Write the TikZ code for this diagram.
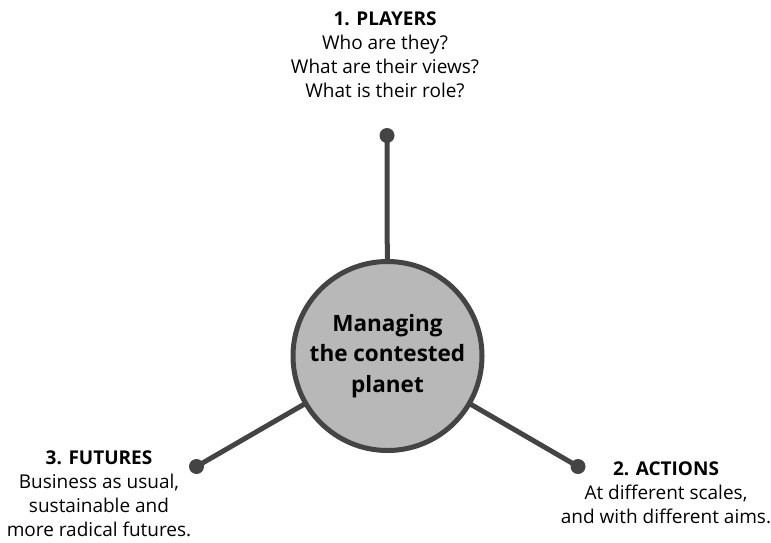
\documentclass[tikz,border=0pt]{standalone}
\usepackage{fontspec}
\setmainfont{Open Sans}
\begin{document}
\begin{tikzpicture}[x=1pt,y=-1pt,
  hub/.style={circle,draw=linegray,fill=hubgray,line width=5pt,minimum size=189pt,inner sep=0pt,align=center,font=\fontsize{22.5}{30.5}\selectfont\bfseries},
  spoke/.style={draw=linegray,line width=5pt},
  dot/.style={circle,fill=linegray,minimum size=15pt,inner sep=0pt},
  lbl/.style={align=center,font=\fontsize{19}{24}\selectfont,inner sep=2pt}]
\definecolor{linegray}{HTML}{444444}
\definecolor{hubgray}{HTML}{B8B8B8}
\useasboundingbox (0,0) rectangle (771,542);
\coordinate (c) at (387.5,356);
\node[dot] (d1) at (387,135.5) {};
\node[dot] (d2) at (578,466.5) {};
\node[dot] (d3) at (196.5,466.5) {};
\draw[spoke] (c) -- (d1.center);
\draw[spoke] (c) -- (d2.center);
\draw[spoke] (c) -- (d3.center);
\node[hub] (hub) at (c) {Managing\\the contested\\planet};
\node[lbl,anchor=north] (t1) at (385,9.5) {\textbf{1. PLAYERS}\\Who are they?\\What are their views?\\What is their role?};
\node[lbl,anchor=north] (t2) at (666,459.5) {\textbf{2. ACTIONS}\\At different scales,\\and with different aims.};
\node[lbl,anchor=north] (t3) at (99,448.5) {\textbf{3. FUTURES}\\Business as usual,\\sustainable and\\more radical futures.};
\end{tikzpicture}
\end{document}
